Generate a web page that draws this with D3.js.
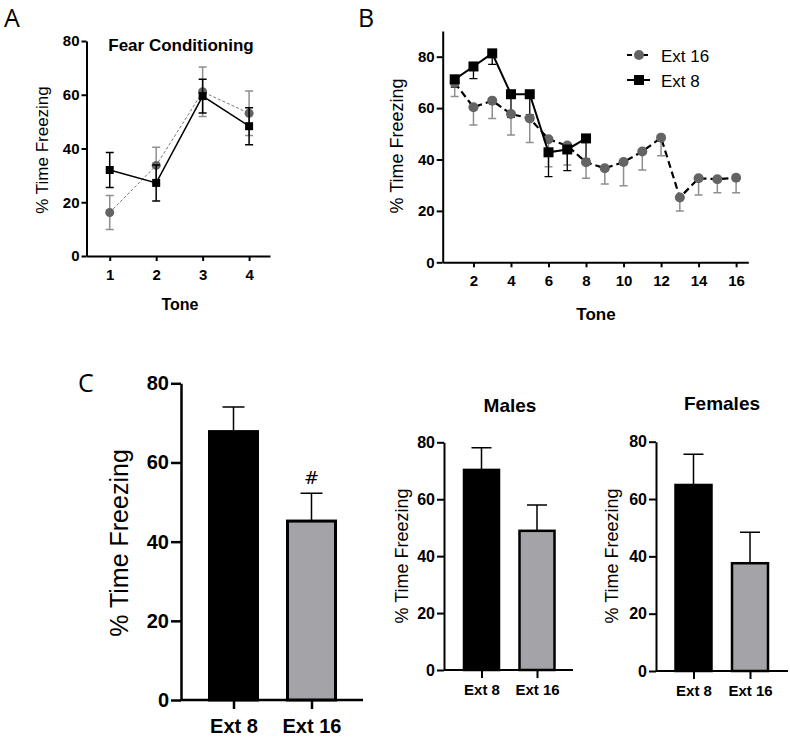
<!DOCTYPE html>
<html>
<head>
<meta charset="utf-8">
<script src="https://cdn.jsdelivr.net/npm/d3@7"></script>
<style>
  body { margin: 0; background: #fff; }
  text { font-family: "Liberation Sans", Arial, sans-serif; }
</style>
</head>
<body>
<svg width="790" height="740"></svg>
<script>
// ---- data ----
// panel A: fear conditioning
const tonesA = [1, 2, 3, 4];
const ext8A = [32.0, 27.2, 59.5, 48.3];
const ext8ASem = [6.5, 6.7, 6.3, 6.9];
const ext16A = [16.2, 33.7, 61.1, 53.1];
const ext16ASem = [6.3, 6.8, 9.2, 8.3];

// panel B: extinction
const tonesB8 = [1, 2, 3, 4, 5, 6, 7, 8];
const tonesB16 = [1, 2, 3, 4, 5, 6, 7, 8, 9, 10, 11, 12, 13, 14, 15, 16];
const ext8B = [71.2, 76.2, 81.3, 65.4, 65.4, 42.8, 43.9, 48.2];
const ext8BSem = [3.0, 4.7, 4.3, 9.0, 8.0, 9.5, 8.2, 8.0];
const ext16B = [69.9, 60.3, 62.9, 57.7, 56.0, 47.9, 45.4, 38.9, 36.6, 39.0, 43.1, 48.5, 25.2, 32.7, 32.3, 32.9];
const ext16BSem = [5.4, 6.9, 6.9, 8.2, 9.4, 10.7, 7.5, 6.2, 6.1, 9.2, 7.2, 7.0, 5.2, 6.5, 5.2, 5.8];
const tickB = [2, 4, 6, 8, 10, 12, 14, 16];

// panel C: bars
const groups = ["Ext 8", "Ext 16"];
const allMeans = [67.8, 45.2];
const allSem = [6.2, 7.0];
const maleMeans = [70.3, 48.9];
const maleSem = [7.8, 9.1];
const femaleMeans = [64.9, 37.6];
const femaleSem = [10.7, 10.8];
const yTicks = [0, 20, 40, 60, 80];

const svg = d3.select("svg");
const gray = "#646464";
const grayErr = "#8f8f8f";
const barGray = "#a3a3a8";

// panel letters
svg.append("text").attr("x", 4).attr("y", 27).attr("font-size", 25)
  .style("font-family", "'Open Sans', sans-serif").text("A");
svg.append("text").attr("x", 358).attr("y", 27).attr("font-size", 25)
  .style("font-family", "'Open Sans', sans-serif").text("B");
svg.append("text").attr("x", 78).attr("y", 392).attr("font-size", 25)
  .style("font-family", "'Open Sans', sans-serif").text("C");

function yAxis(g, y, x0, fs, tlen, sw) {
  const ax = g.append("g").attr("transform", `translate(${x0},0)`)
    .call(d3.axisLeft(y).tickValues(yTicks).tickSize(tlen).tickSizeOuter(0).tickPadding(2));
  ax.select(".domain").attr("stroke-width", sw);
  ax.selectAll(".tick line").attr("stroke-width", sw);
  ax.selectAll("text").style("font-size", fs + "px").style("font-weight", "bold")
    .style("font-family", "'Liberation Sans', Arial, sans-serif").attr("fill", "#000");
  return ax;
}

function yLabel(g, cx, cy, fs) {
  g.append("text").attr("transform", `translate(${cx},${cy}) rotate(-90)`)
    .attr("text-anchor", "middle").attr("dominant-baseline", "middle")
    .attr("font-size", fs).text("% Time Freezing");
}

// ================= panel A =================
{
  const g = svg.append("g");
  const x = d3.scaleLinear().domain([0.5, 4.45]).range([86.5, 270]);
  const y = d3.scaleLinear().domain([0, 80]).range([256, 41]);

  yAxis(g, y, 86.5, 15, 5, 2);
  const xa = g.append("g").attr("transform", `translate(0,256)`)
    .call(d3.axisBottom(x).tickValues(tonesA).tickFormat(d3.format("d"))
      .tickSize(5).tickSizeOuter(0).tickPadding(8));
  xa.select(".domain").attr("stroke-width", 2);
  xa.selectAll(".tick line").attr("stroke-width", 2);
  xa.selectAll("text").style("font-size", "15px").style("font-weight", "bold");

  g.append("text").attr("x", 180).attr("y", 310).attr("text-anchor", "middle")
    .attr("font-size", 16).attr("font-weight", "bold").text("Tone");
  g.append("text").attr("x", 181).attr("y", 51).attr("text-anchor", "middle")
    .attr("font-size", 17).attr("font-weight", "bold").text("Fear Conditioning");
  yLabel(g, 44, 150, 17);

  // ext 16 (grey circles)
  tonesA.forEach((t, i) => {
    const cx = x(t);
    g.append("path").attr("fill", "none").attr("stroke", grayErr).attr("stroke-width", 1.5)
      .attr("d", `M${cx},${y(ext16A[i] - ext16ASem[i])}V${y(ext16A[i] + ext16ASem[i])}` +
        `M${cx - 4},${y(ext16A[i] - ext16ASem[i])}h8M${cx - 4},${y(ext16A[i] + ext16ASem[i])}h8`);
  });
  g.append("path").datum(tonesA.map((t, i) => [t, ext16A[i]]))
    .attr("fill", "none").attr("stroke", "#777").attr("stroke-width", 1)
    .attr("stroke-dasharray", "3,2")
    .attr("d", d3.line().x(d => x(d[0])).y(d => y(d[1])));
  g.selectAll(".c16").data(tonesA).join("circle")
    .attr("cx", d => x(d)).attr("cy", (d, i) => y(ext16A[i])).attr("r", 4.5).attr("fill", gray);

  // ext 8 (black squares)
  tonesA.forEach((t, i) => {
    const cx = x(t);
    g.append("path").attr("fill", "none").attr("stroke", "#000").attr("stroke-width", 1.5)
      .attr("d", `M${cx},${y(ext8A[i] - ext8ASem[i])}V${y(ext8A[i] + ext8ASem[i])}` +
        `M${cx - 4},${y(ext8A[i] - ext8ASem[i])}h8M${cx - 4},${y(ext8A[i] + ext8ASem[i])}h8`);
  });
  g.append("path").datum(tonesA.map((t, i) => [t, ext8A[i]]))
    .attr("fill", "none").attr("stroke", "#000").attr("stroke-width", 1.5)
    .attr("d", d3.line().x(d => x(d[0])).y(d => y(d[1])));
  g.selectAll(".s8").data(tonesA).join("rect")
    .attr("x", d => x(d) - 4).attr("y", (d, i) => y(ext8A[i]) - 4)
    .attr("width", 8).attr("height", 8).attr("fill", "#000");
}

// ================= panel B =================
{
  const g = svg.append("g");
  const x = d3.scaleLinear().domain([0.36, 16.65]).range([442.7, 748.3]);
  const y = d3.scaleLinear().domain([0, 90]).range([262.3, 31]);

  yAxis(g, y, 442.7, 15, 6, 2);
  const xa = g.append("g").attr("transform", `translate(0,262.3)`)
    .call(d3.axisBottom(x).tickValues(tickB).tickSize(5).tickSizeOuter(0).tickPadding(8));
  xa.select(".domain").attr("stroke-width", 2);
  xa.selectAll(".tick line").attr("stroke-width", 2);
  xa.selectAll("text").style("font-size", "15px").style("font-weight", "bold");

  g.append("text").attr("x", 596).attr("y", 320).attr("text-anchor", "middle")
    .attr("font-size", 17).attr("font-weight", "bold").text("Tone");
  yLabel(g, 398, 146, 18);

  // ext 16 - error bars below only
  tonesB16.forEach((t, i) => {
    const cx = x(t);
    const lo = y(ext16B[i] - ext16BSem[i]);
    g.append("path").attr("fill", "none").attr("stroke", grayErr).attr("stroke-width", 1.5)
      .attr("d", `M${cx},${y(ext16B[i])}V${lo}M${cx - 4},${lo}h8`);
  });
  // ext 8 - error bars below only
  tonesB8.forEach((t, i) => {
    const cx = x(t);
    const lo = y(ext8B[i] - ext8BSem[i]);
    g.append("path").attr("fill", "none").attr("stroke", "#000").attr("stroke-width", 1.3)
      .attr("d", `M${cx},${y(ext8B[i])}V${lo}M${cx - 4},${lo}h8`);
  });

  g.append("path").datum(tonesB16.map((t, i) => [t, ext16B[i]]))
    .attr("fill", "none").attr("stroke", "#000").attr("stroke-width", 2.2)
    .attr("stroke-dasharray", "7,4")
    .attr("d", d3.line().x(d => x(d[0])).y(d => y(d[1])));
  g.selectAll(".c16").data(tonesB16).join("circle")
    .attr("cx", d => x(d)).attr("cy", (d, i) => y(ext16B[i])).attr("r", 5).attr("fill", gray);

  g.append("path").datum(tonesB8.map((t, i) => [t, ext8B[i]]))
    .attr("fill", "none").attr("stroke", "#000").attr("stroke-width", 2)
    .attr("d", d3.line().x(d => x(d[0])).y(d => y(d[1])));
  g.selectAll(".s8").data(tonesB8).join("rect")
    .attr("x", d => x(d) - 5).attr("y", (d, i) => y(ext8B[i]) - 5)
    .attr("width", 10).attr("height", 10).attr("fill", "#000");

  // legend
  const lg = g.append("g");
  lg.append("line").attr("x1", 627).attr("x2", 650).attr("y1", 55).attr("y2", 55)
    .attr("stroke", "#000").attr("stroke-width", 2.2).attr("stroke-dasharray", "5,3");
  lg.append("circle").attr("cx", 639).attr("cy", 55).attr("r", 5).attr("fill", gray);
  lg.append("text").attr("x", 661).attr("y", 61.5).attr("font-size", 17).text("Ext 16");
  lg.append("line").attr("x1", 627).attr("x2", 650).attr("y1", 80).attr("y2", 80)
    .attr("stroke", "#000").attr("stroke-width", 2);
  lg.append("rect").attr("x", 634).attr("y", 75).attr("width", 10).attr("height", 10).attr("fill", "#000");
  lg.append("text").attr("x", 661).attr("y", 86.5).attr("font-size", 17).text("Ext 8");
}

// ================= panel C bars =================
function barPanel(opt) {
  const g = svg.append("g");
  const x = d3.scalePoint().domain(groups).range(opt.centers);
  const y = d3.scaleLinear().domain([0, 80]).range([opt.y0, opt.y80]);

  yAxis(g, y, opt.x0, opt.tickFs, opt.yTick, opt.sw);
  const xa = g.append("g").attr("transform", `translate(0,${opt.y0})`)
    .call(d3.axisBottom(x).tickSize(opt.xTick).tickSizeOuter(0).tickPadding(opt.pad));
  xa.select(".domain").attr("d", `M${opt.x0},0H${opt.x1}`).attr("stroke-width", opt.sw);
  xa.selectAll(".tick line").attr("stroke-width", opt.sw);
  xa.selectAll("text").style("font-size", opt.xFs + "px").style("font-weight", "bold");

  // error bars (upper only)
  groups.forEach((k, i) => {
    const cx = x(k);
    const top = y(opt.means[i] + opt.sem[i]);
    g.append("path").attr("fill", "none").attr("stroke", "#000").attr("stroke-width", 1.5)
      .attr("d", `M${cx},${y(opt.means[i])}V${top}M${cx - opt.cap},${top}h${2 * opt.cap}`);
  });

  g.selectAll(".bar").data(groups).join("rect")
    .attr("x", d => x(d) - opt.bw / 2)
    .attr("y", (d, i) => y(opt.means[i]))
    .attr("width", opt.bw)
    .attr("height", (d, i) => opt.y0 - y(opt.means[i]))
    .attr("fill", (d, i) => i === 0 ? "#000" : barGray)
    .attr("stroke", "#000").attr("stroke-width", opt.bsw);

  yLabel(g, opt.labX, opt.labY, opt.labFs);
  if (opt.title) {
    g.append("text").attr("x", opt.titleX).attr("y", opt.titleY).attr("text-anchor", "middle")
      .attr("font-size", 19).attr("font-weight", "bold").text(opt.title);
  }
  return {g, x, y};
}

const main = barPanel({
  means: allMeans, sem: allSem, centers: [233.5, 311.5], x0: 181, x1: 363,
  y0: 700, y80: 383.3, tickFs: 20, xFs: 20, yTick: 10, xTick: 9, pad: 10, sw: 2.5,
  bw: 48, bsw: 3, cap: 11, labX: 121, labY: 543, labFs: 25
});
main.g.append("text").attr("x", main.x("Ext 16")).attr("y", 484)
  .attr("text-anchor", "middle").attr("font-size", 18)
  .style("font-family", "'DejaVu Sans', sans-serif").text("#");

barPanel({
  means: maleMeans, sem: maleSem, centers: [481.5, 537], x0: 444, x1: 573,
  y0: 670, y80: 442.3, tickFs: 16, xFs: 15, yTick: 7, xTick: 8, pad: 6, sw: 2,
  bw: 35, bsw: 2.5, cap: 10, labX: 403, labY: 556, labFs: 18,
  title: "Males", titleX: 510, titleY: 412
});

barPanel({
  means: femaleMeans, sem: femaleSem, centers: [693.5, 750], x0: 656, x1: 788,
  y0: 671, y80: 441.7, tickFs: 16, xFs: 15, yTick: 7, xTick: 8, pad: 6, sw: 2,
  bw: 36, bsw: 2.5, cap: 10, labX: 613, labY: 556, labFs: 18,
  title: "Females", titleX: 722, titleY: 410
});
</script>
</body>
</html>
